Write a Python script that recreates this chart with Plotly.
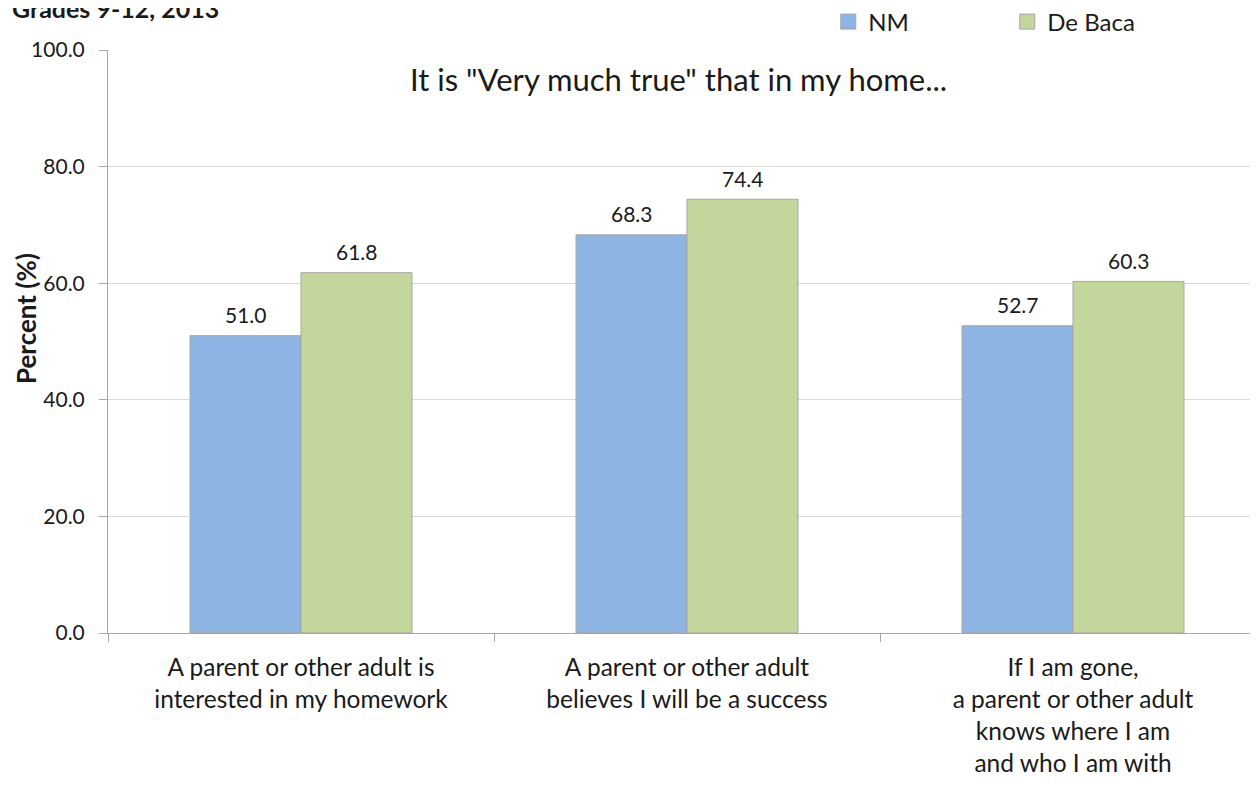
import plotly.graph_objects as go

categories = [
    "A parent or other adult is<br>interested in my homework",
    "A parent or other adult<br>believes I will be a success",
    "If I am gone,<br>a parent or other adult<br>knows where I am<br>and who I am with",
]
nm_values = [51.0, 68.3, 52.7]
debaca_values = [61.8, 74.4, 60.3]
y_ticks = [0, 20, 40, 60, 80, 100]
series_names = ["NM", "De Baca"]
series_colors = ["#8EB4E3", "#C3D69B"]

FONT = "Lato"
TXT = "#1a1a1a"
EDGE = "#A6A6A6"
fig = go.Figure()
for name, vals, col in zip(series_names, [nm_values, debaca_values], series_colors):
    fig.add_trace(go.Bar(
        x=categories, y=vals, name=name, showlegend=False, legendgroup=name,
        marker=dict(color=col, line=dict(color=EDGE, width=1)),
    ))
# value labels above bars, anchored to the data values
for vals, shift in zip([nm_values, debaca_values], [-55.5, 55.5]):
    for cat, v in zip(categories, vals):
        fig.add_annotation(x=cat, y=v, xref="x", yref="y", text=f"{v:.1f}", showarrow=False,
                           xshift=shift, yshift=21, yanchor="middle", xanchor="center",
                           font=dict(size=21, family=FONT, color=TXT))
# legend-only entries with larger square swatches
for name, col in zip(series_names, series_colors):
    fig.add_trace(go.Scatter(
        x=[None], y=[None], mode="markers", name=name, legendgroup=name,
        marker=dict(symbol="square", size=15, color=col, line=dict(color=EDGE, width=1)),
    ))

fig.update_layout(
    width=1258, height=786,
    margin=dict(l=100, r=0, t=42, b=161, autoexpand=False),
    paper_bgcolor="white", plot_bgcolor="white",
    font=dict(family=FONT, color=TXT),
    barmode="group", bargap=0.425, bargroupgap=0,
    legend=dict(orientation="h", x=0.622, xanchor="left", y=1.048, yanchor="middle",
                font=dict(size=24, family=FONT, color=TXT), entrywidth=134, entrywidthmode="pixels",
                traceorder="normal", bgcolor="rgba(0,0,0,0)", itemsizing="trace"),
    xaxis=dict(range=[-0.5, 2.5], showline=True, linecolor=EDGE, linewidth=1,
               ticks="outside", tickson="boundaries", ticklen=8, tickcolor=EDGE,
               tickfont=dict(size=24.5, family=FONT, color=TXT), showgrid=False, automargin=False,
               ticklabelstandoff=13),
    yaxis=dict(range=[0, 100], tickvals=y_ticks, ticktext=[f"{v:.1f}" for v in y_ticks],
               showline=True, linecolor=EDGE, linewidth=1, ticks="outside", ticklen=8,
               tickcolor=EDGE, tickfont=dict(size=21, family=FONT, color=TXT),
               showgrid=True, gridcolor="#D9D9D9", gridwidth=1, zeroline=False,
               automargin=False, ticklabelstandoff=10),
)
fig.add_annotation(text="<b>Percent (%)</b>", xref="paper", yref="paper", textangle=-90,
                   x=-0.0708, xanchor="center", y=0.5386, yanchor="middle", showarrow=False,
                   font=dict(size=26, family=FONT, color=TXT))
fig.add_annotation(text="<b>Grades 9-12, 2013</b>", xref="paper", yref="paper",
                   x=-0.0846, xanchor="left", y=1.072, yanchor="middle", showarrow=False,
                   font=dict(size=25, family=FONT, color=TXT))
fig.add_annotation(text='It is "Very much true" that in my home...', xref="paper", yref="paper",
                   x=0.493, xanchor="center", y=0.951, yanchor="middle", showarrow=False,
                   font=dict(size=31, family=FONT, color=TXT))

fig.write_html("out.html")
